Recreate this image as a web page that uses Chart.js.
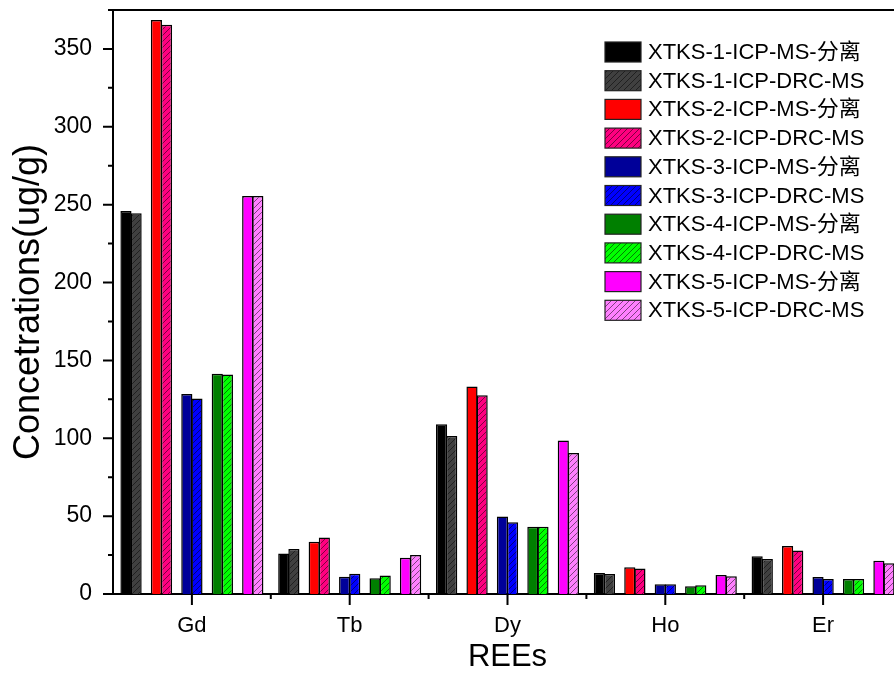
<!DOCTYPE html>
<html lang="zh">
<head>
<meta charset="UTF-8">
<title>REEs</title>
<script src="https://cdn.jsdelivr.net/npm/chart.js"></script>
<style>
  html, body { margin: 0; padding: 0; background: #fff; overflow: hidden; }
  #wrap { position: relative; width: 905px; height: 676px; }
</style>
</head>
<body>
<div id="wrap"><canvas id="reeChart"></canvas></div>
<script>
// categories
const elements = ["Gd", "Tb", "Dy", "Ho", "Er"];

// series values (ug/g)
const xtks1Ms  = [246.0, 26.0, 109.0, 13.5, 24.2];
const xtks1Drc = [244.5, 28.9, 101.5, 12.8, 22.5];
const xtks2Ms  = [368.5, 33.6, 133.2, 17.1, 30.8];
const xtks2Drc = [365.5, 36.2, 127.6, 16.3, 28.0];
const xtks3Ms  = [128.5, 11.1, 49.7, 6.2, 10.9];
const xtks3Drc = [125.5, 13.0, 46.0, 6.2, 9.6];
const xtks4Ms  = [141.5, 10.1, 43.2, 4.9, 9.6];
const xtks4Drc = [141.0, 11.8, 43.2, 5.6, 9.6];
const xtks5Ms  = [255.5, 23.3, 98.5, 12.2, 21.4];
const xtks5Drc = [255.5, 25.0, 90.6, 11.4, 19.7];

const msSeries  = [xtks1Ms, xtks2Ms, xtks3Ms, xtks4Ms, xtks5Ms];
const drcSeries = [xtks1Drc, xtks2Drc, xtks3Drc, xtks4Drc, xtks5Drc];
const msLabels  = ["XTKS-1-ICP-MS-分离", "XTKS-2-ICP-MS-分离", "XTKS-3-ICP-MS-分离", "XTKS-4-ICP-MS-分离", "XTKS-5-ICP-MS-分离"];
const drcLabels = ["XTKS-1-ICP-DRC-MS", "XTKS-2-ICP-DRC-MS", "XTKS-3-ICP-DRC-MS", "XTKS-4-ICP-DRC-MS", "XTKS-5-ICP-DRC-MS"];
const msColors  = ["#000000", "#ff0000", "#000099", "#007f00", "#ff00ff"];
const drcColors = ["#404040", "#ff0080", "#0000ff", "#00ff00", "#ff80ff"];

const FONT = "'Liberation Sans', Arial, 'Noto Sans CJK SC', sans-serif";

// diagonal hatch fill for the DRC bars
function hatch(color) {
    const c = document.createElement("canvas");
    c.width = 6; c.height = 6;
    const g = c.getContext("2d");
    g.fillStyle = color;
    g.fillRect(0, 0, 6, 6);
    g.strokeStyle = "rgba(0,0,0,0.5)";
    g.lineWidth = 1;
    g.beginPath();
    g.moveTo(0, 6); g.lineTo(6, 0);
    g.moveTo(-1, 1); g.lineTo(1, -1);
    g.moveTo(5, 7); g.lineTo(7, 5);
    g.stroke();
    return g.createPattern(c, "repeat");
}

const datasets = [];
msSeries.forEach((ms, i) => {
    datasets.push({ label: msLabels[i], data: ms, backgroundColor: msColors[i] });
    datasets.push({ label: drcLabels[i], data: drcSeries[i], backgroundColor: hatch(drcColors[i]) });
    if (i < msSeries.length - 1) datasets.push({ label: "", data: [], spacer: true });
});

// tick marks + top frame line
const axisMarks = {
    id: "axisMarks",
    afterDraw(chart) {
        const { ctx, chartArea: a, scales: { x, y } } = chart;
        ctx.save();
        ctx.strokeStyle = "#000";
        ctx.lineWidth = 2;
        ctx.beginPath();
        ctx.moveTo(a.left - 1, a.top);
        ctx.lineTo(chart.width, a.top);
        for (let v = 0; v <= y.max; v += 25) {
            const py = y.getPixelForValue(v);
            ctx.moveTo(a.left, py);
            ctx.lineTo(a.left - (v % 50 === 0 ? 10 : 5), py);
        }
        const step = x.getPixelForValue(1) - x.getPixelForValue(0);
        elements.forEach((_, i) => {
            const px = x.getPixelForValue(i);
            ctx.moveTo(px, a.bottom);
            ctx.lineTo(px, a.bottom + 11);
            if (i > 0) {
                ctx.moveTo(px - step / 2, a.bottom);
                ctx.lineTo(px - step / 2, a.bottom + 5);
            }
        });
        ctx.stroke();
        ctx.restore();
    }
};

// legend inside the plot, top right
const boxLegend = {
    id: "boxLegend",
    afterDraw(chart) {
        const ctx = chart.ctx;
        const items = chart.data.datasets.filter(d => !d.spacer);
        ctx.save();
        ctx.font = "22px " + FONT;
        ctx.textBaseline = "middle";
        ctx.textAlign = "left";
        items.forEach((d, i) => {
            const top = 42 + i * 28.7;
            ctx.fillStyle = d.backgroundColor;
            ctx.fillRect(605, top, 36, 20);
            ctx.strokeStyle = "#222";
            ctx.lineWidth = 1.2;
            ctx.strokeRect(605, top, 36, 20);
            ctx.fillStyle = "#000";
            ctx.fillText(d.label, 648, top + 11);
        });
        ctx.restore();
    }
};

new Chart(document.getElementById("reeChart"), {
    type: "bar",
    data: { labels: elements, datasets: datasets },
    options: {
        responsive: true,
        maintainAspectRatio: false,
        animation: false,
        layout: { padding: { top: 10, right: 3, left: 0, bottom: 0 } },
        datasets: {
            bar: {
                categoryPercentage: 0.9,
                barPercentage: 1.1,
                borderColor: "#000",
                borderWidth: 1.5
            }
        },
        plugins: { legend: { display: false }, tooltip: { enabled: false } },
        scales: {
            x: {
                grid: { display: false, drawTicks: false },
                border: { display: true, color: "#000", width: 2 },
                ticks: { color: "#000", padding: 19, font: { family: FONT, size: 22 } },
                title: { display: true, text: "REEs", color: "#000", padding: { top: 0, bottom: 0 }, font: { family: FONT, size: 31 } },
                afterFit(s) { s.height = 82; s.paddingLeft = 0; s.paddingRight = 0; }
            },
            y: {
                min: 0,
                max: 375,
                grid: { display: false, drawTicks: false },
                border: { display: true, color: "#000", width: 2 },
                ticks: {
                    stepSize: 50,
                    color: "#000",
                    padding: 21,
                    font: { family: FONT, size: 23 },
                    callback: v => (v % 50 === 0 ? v : null)
                },
                title: { display: true, text: "Concetrations(ug/g)", color: "#000", padding: { top: 7, bottom: 0 }, font: { family: FONT, size: 36 } },
                afterFit(s) { s.width = 113; s.paddingTop = 0; s.paddingBottom = 0; }
            }
        }
    },
    plugins: [axisMarks, boxLegend]
});
</script>
</body>
</html>
